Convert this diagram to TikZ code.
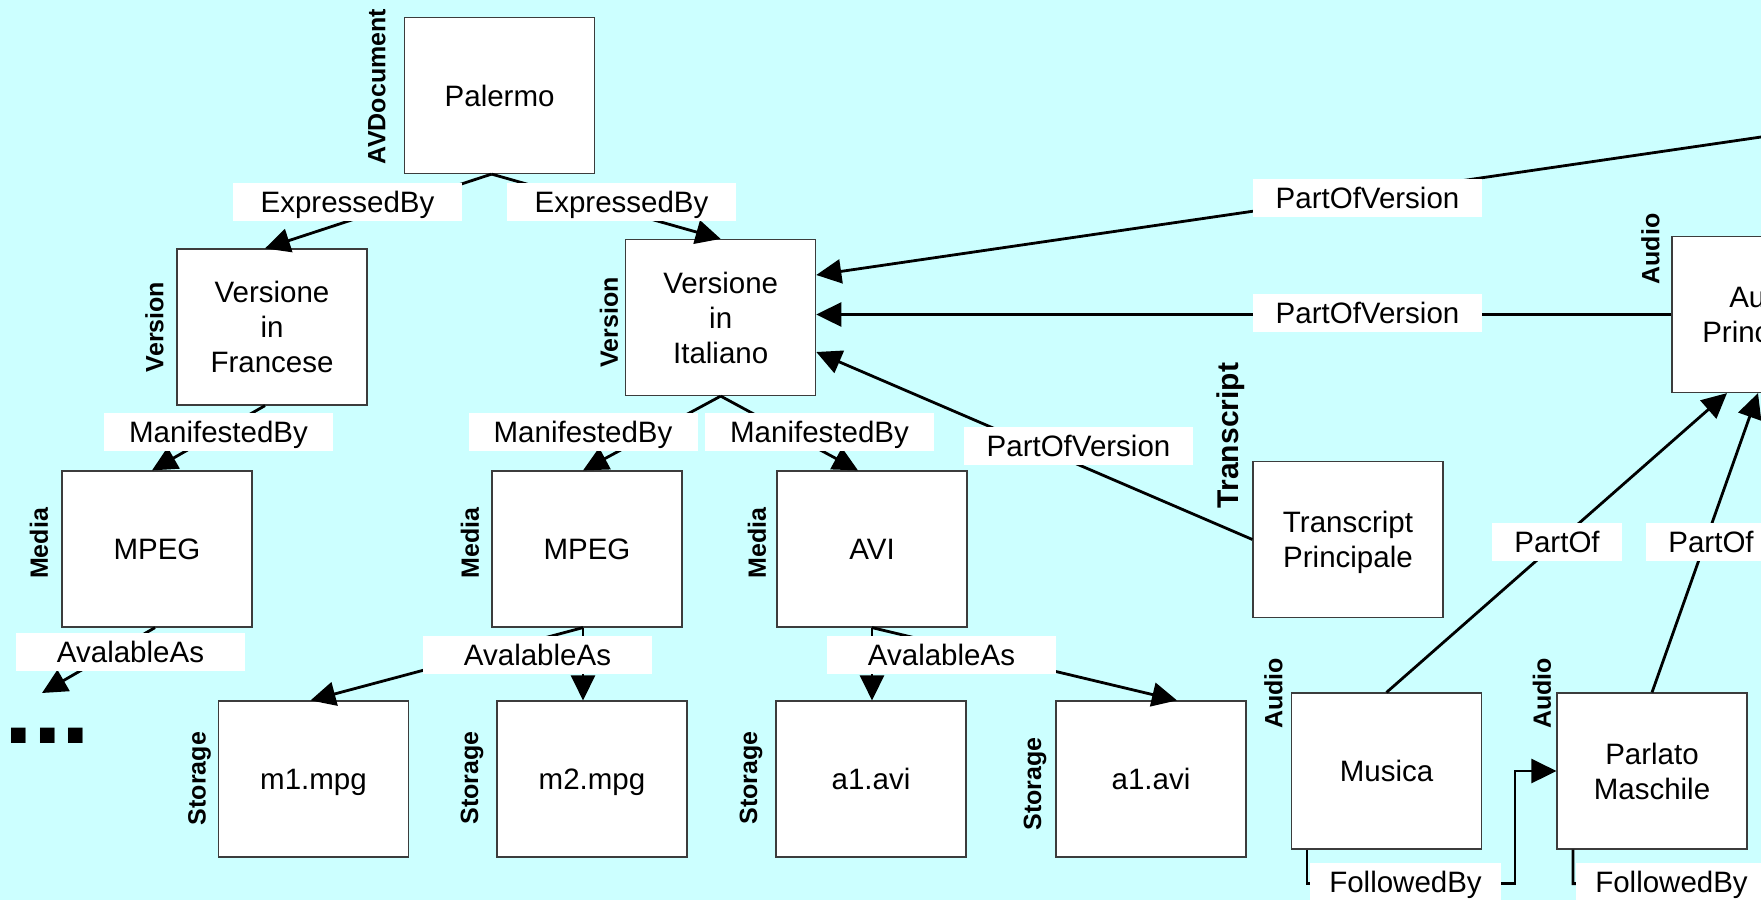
\documentclass[tikz,border=0pt]{standalone}
\usepackage{fontspec}
\setmainfont{Liberation Sans}
\usetikzlibrary{arrows.meta,calc}
\definecolor{bgc}{RGB}{204,255,255}
\definecolor{boxline}{RGB}{60,60,60}
\begin{document}
\begin{tikzpicture}[x=1pt,y=-1pt,
  entity/.style={draw=boxline,line width=1.2pt,fill=white,minimum width=190pt,minimum height=156pt,inner sep=0pt,align=center,text depth=0pt,font=\fontsize{29.5}{35}\selectfont},
  kind/.style={rotate=90,inner sep=0pt,font=\fontsize{25}{30}\selectfont\bfseries},
  rel/.style={fill=white,inner sep=0pt,minimum width=229pt,minimum height=38pt,text height=21pt,text depth=0pt,font=\fontsize{29.5}{35}\selectfont},
  conn/.style={line width=2.8pt,-{Triangle[length=25pt,width=24pt]}},
  plainconn/.style={line width=2.8pt},
]
\useasboundingbox (0,0) rectangle (1761,900);
\fill[bgc] (0,0) rectangle (1761,900);
\clip (0,0) rectangle (1761,900);

% entities
\node[entity] (pal) at (499.6,95.5) {Palermo};
\node[entity] (fr) at (272,327) {Versione\\in\\Francese};
\node[entity] (it) at (720.7,317.5) {Versione\\in\\Italiano};
\node[entity] (mpA) at (157,549) {MPEG};
\node[entity] (mpB) at (587,549) {MPEG};
\node[entity] (avi) at (872,549) {AVI};
\node[entity] (m1) at (313.5,779) {m1.mpg};
\node[entity] (m2) at (592,779) {m2.mpg};
\node[entity] (a1) at (871,779) {a1.avi};
\node[entity] (a1b) at (1151,779) {a1.avi};
\node[entity] (tr) at (1348,539.5) {Transcript\\Principale};
\node[entity] (mu) at (1386.5,771) {Musica};
\node[entity] (pa) at (1652,771) {Parlato\\Maschile};
\node[entity] (ap) at (1767,314.5) {Audio\\Principale};

% type labels
\node[kind] (kPal) at (377,86.5) {AVDocument};
\node[kind] (kFr) at (154.5,327) {Version};
\node[kind] (kIt) at (609,322.5) {Version};
\node[kind] (kMA) at (39,543.5) {Media};
\node[kind] (kMB) at (470,543) {Media};
\node[kind] (kAvi) at (757,543) {Media};
\node[kind] (kM1) at (199.5,778.5) {Storage};
\node[kind] (kM2) at (472,778) {Storage};
\node[kind] (kA1) at (751,778) {Storage};
\node[kind] (kA1b) at (1035,784) {Storage};
\node[kind,font=\fontsize{30}{36}\selectfont\bfseries] (kTr) at (1231,435.5) {Transcript};
\node[kind] (kMu) at (1273.5,693.5) {Audio};
\node[kind] (kPa) at (1542,693.5) {Audio};
\node[kind] (kAp) at (1650.5,249) {Audio};

% ellipsis
\node[anchor=base west,inner sep=0pt,font=\fontsize{103}{110}\selectfont\bfseries] (dots) at (4.3,743) {...};
\coordinate (dotsTip) at (42,693);
\coordinate (offT) at (1900,116.7);
\coordinate (offR) at (1800,883);

% connectors
\draw[conn] ($(pal.south)+(-8,0)$) -- ($(fr.north)+(-7,0)$);
\draw[conn] ($(pal.south)+(-8,0)$) -- (it.north);
\draw[conn] ($(fr.south)+(-7,0)$) -- ($(mpA.north)+(-5,0)$);
\draw[conn] (it.south) -- ($(mpB.north)+(-4,0)$);
\draw[conn] (it.south) -- ($(avi.north)+(-14,0)$);
\draw[conn] ($(mpA.south)+(-2,0)$) -- (dotsTip);
\draw[conn] ($(mpB.south)+(-4,0)$) -- ($(m1.north)+(-3,0)$);
\draw[conn] ($(mpB.south)+(-4,0)$) -- ($(m2.north)+(-9,0)$);
\draw[conn] (avi.south) -- (avi.south |- a1.north);
\draw[conn] (avi.south) -- ($(a1b.north)+(26,0)$);
\draw[conn] (tr.west) -- ($(it.east)+(0,34.5)$);
\draw[conn] (ap.west) -- (ap.west -| it.east);
\draw[conn] (offT) -- ($(it.east)+(0,-42.5)$);
\draw[conn] (mu.north) -- ($(ap.south)+(-40,0)$);
\draw[conn] (pa.north) -- ($(ap.south)+(-9,0)$);
\draw[conn] ($(mu.south)+(-79.5,0)$) -- ++(0,34) -- ++(208,0) |- (pa.west);
\draw[plainconn] ($(pa.south)+(-79,0)$) -- ++(0,34) -- (offR);

% relation labels
\node[rel] (lEx1) at (347.5,202) {ExpressedBy};
\node[rel] (lEx2) at (621.5,202) {ExpressedBy};
\node[rel] (lMa1) at (218.5,431.5) {ManifestedBy};
\node[rel] (lMa2) at (583,431.5) {ManifestedBy};
\node[rel] (lMa3) at (819.5,431.5) {ManifestedBy};
\node[rel] (lAv1) at (130.5,652) {AvalableAs};
\node[rel] (lAv2) at (537.5,655) {AvalableAs};
\node[rel] (lAv3) at (941.5,655) {AvalableAs};
\node[rel] (lPv1) at (1367.5,198) {PartOfVersion};
\node[rel] (lPv2) at (1367.5,313) {PartOfVersion};
\node[rel] (lPv3) at (1078.5,446) {PartOfVersion};
\node[rel,minimum width=130pt] (lPo1) at (1557,541.5) {PartOf};
\node[rel,minimum width=130pt] (lPo2) at (1711,541.5) {PartOf};
\node[rel,minimum width=191pt] (lFb1) at (1405.5,882) {FollowedBy};
\node[rel,minimum width=191pt] (lFb2) at (1671.5,882) {FollowedBy};
\end{tikzpicture}
\end{document}
